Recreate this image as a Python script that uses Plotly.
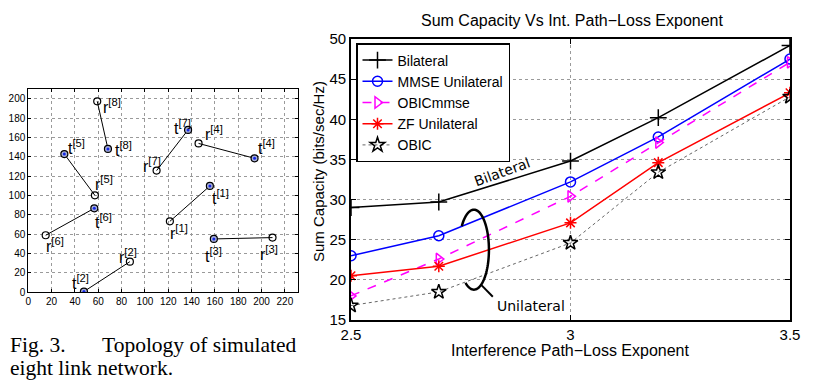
import numpy as np
import plotly.graph_objects as go

W, H = 817, 384

# ---------------- Data: left topology panel ----------------
link_ids = [1, 2, 3, 4, 5, 6, 7, 8]
tx_x = [155.7, 47.7, 159.1, 194.0, 30.9, 56.6, 137.0, 68.3]
tx_y = [110.0, 0.8, 55.2, 138.6, 143.0, 86.9, 168.0, 148.3]
rx_x = [121.4, 87.1, 209.4, 146.0, 57.1, 14.9, 110.0, 59.1]
rx_y = [73.4, 31.7, 56.6, 154.0, 100.3, 59.0, 125.9, 197.6]
# label anchor positions (data units)
tx_lab_x = [164.6, 44.6, 158.6, 204.6, 40.9, 64.3, 132.3, 81.7]
tx_lab_y = [98.3, 11.0, 38.6, 150.7, 150.7, 74.0, 171.4, 148.0]
rx_lab_x = [129.1, 85.1, 206.3, 158.9, 64.6, 22.9, 105.7, 71.7]
rx_lab_y = [62.8, 38.0, 40.3, 165.2, 112.8, 49.0, 131.7, 192.8]
topo_xticks = list(range(0, 221, 20))
topo_yticks = list(range(0, 201, 20))

# ---------------- Data: right capacity panel ----------------
exponent = [2.5, 2.7, 3.0, 3.2, 3.5]
bilateral = [29.0, 29.7, 34.8, 40.2, 49.2]
mmse_unilateral = [23.0, 25.5, 32.2, 37.8, 47.5]
obic_mmse = [18.0, 22.6, 30.4, 37.1, 47.1]
zf_unilateral = [20.5, 21.7, 27.1, 34.6, 43.3]
obic = [16.8, 18.5, 24.6, 33.4, 42.8]
cap_xticks = [2.5, 3.0, 3.5]
cap_xticklabels = ["2.5", "3", "3.5"]
cap_yticks = [15, 20, 25, 30, 35, 40, 45, 50]


def px_x(p):
    return p / W


def px_y(p):
    return 1 - p / H


fig = go.Figure()

# ---- left panel: links ----
lx, ly = [], []
for i in range(len(link_ids)):
    lx += [tx_x[i], rx_x[i], None]
    ly += [tx_y[i], rx_y[i], None]
fig.add_trace(go.Scatter(x=lx, y=ly, mode="lines", line=dict(color="black", width=1),
                         xaxis="x", yaxis="y", showlegend=False, hoverinfo="skip"))
fig.add_trace(go.Scatter(x=rx_x, y=rx_y, mode="markers",
                         marker=dict(symbol="circle-open", size=7, color="black", line=dict(width=1.2)),
                         xaxis="x", yaxis="y", showlegend=False))
fig.add_trace(go.Scatter(x=tx_x, y=tx_y, mode="markers",
                         marker=dict(symbol="circle", size=7, color="#a9b0d8", line=dict(width=1.2, color="black")),
                         xaxis="x", yaxis="y", showlegend=False))
fig.add_trace(go.Scatter(x=tx_x, y=tx_y, mode="markers",
                         marker=dict(symbol="circle", size=3, color="#1428e6"),
                         xaxis="x", yaxis="y", showlegend=False))

annotations = []
for i, k in enumerate(link_ids):
    annotations.append(dict(x=tx_lab_x[i], y=tx_lab_y[i], xref="x", yref="y",
                            text=f"t<sup>[{k}]</sup>", showarrow=False,
                            font=dict(family="Liberation Sans, Arial", size=16, color="black"),
                            xanchor="center", yanchor="middle"))
    annotations.append(dict(x=rx_lab_x[i], y=rx_lab_y[i], xref="x", yref="y",
                            text=f"r<sup>[{k}]</sup>", showarrow=False,
                            font=dict(family="Liberation Sans, Arial", size=16, color="black"),
                            xanchor="center", yanchor="middle"))

# ---- right panel: capacity curves ----
fig.add_trace(go.Scatter(x=exponent, y=bilateral, name="Bilateral", mode="lines+markers",
                         line=dict(color="black", width=1.5),
                         marker=dict(symbol="cross-thin-open", size=12, color="black", line=dict(width=1.5)),
                         xaxis="x2", yaxis="y2"))
fig.add_trace(go.Scatter(x=exponent, y=mmse_unilateral, name="MMSE Unilateral", mode="lines+markers",
                         line=dict(color="blue", width=1.5),
                         marker=dict(symbol="circle-open", size=10, color="blue", line=dict(width=1.5)),
                         xaxis="x2", yaxis="y2"))
fig.add_trace(go.Scatter(x=exponent, y=obic_mmse, name="OBICmmse", mode="lines+markers",
                         line=dict(color="magenta", width=1.5, dash="dash"),
                         marker=dict(symbol="triangle-right-open", size=10, color="magenta", line=dict(width=1.5)),
                         xaxis="x2", yaxis="y2"))
fig.add_trace(go.Scatter(x=exponent, y=zf_unilateral, name="ZF Unilateral", mode="lines+markers",
                         line=dict(color="red", width=1.5),
                         marker=dict(symbol="asterisk-open", size=10, color="red", line=dict(width=1.5)),
                         xaxis="x2", yaxis="y2"))
fig.add_trace(go.Scatter(x=exponent, y=obic, name="OBIC", mode="lines+markers",
                         line=dict(color="#666666", width=1, dash="dot"),
                         marker=dict(symbol="star-open", size=11, color="black", line=dict(width=1.5)),
                         xaxis="x2", yaxis="y2"))

# ellipse (open on the left) + leader line for "Unilateral"
cx, cy, ax_, by_ = 2.780, 23.76, 0.0342, 4.98
theta = np.deg2rad(np.linspace(144, -124, 80))
ex = cx + ax_ * np.cos(theta)
ey = cy + by_ * np.sin(theta)
path = "M " + " L ".join(f"{a:.5f},{b:.4f}" for a, b in zip(ex, ey))
shapes = [
    dict(type="path", path=path, xref="x2", yref="y2", line=dict(color="black", width=2.5)),
    dict(type="line", x0=2.796, y0=19.4, x1=2.823, y1=17.9, xref="x2", yref="y2",
         line=dict(color="black", width=2)),
]

annotations += [
    dict(x=2.844, y=33.44, xref="x2", yref="y2", text="Bilateral", showarrow=False, textangle=-20,
         font=dict(family="DejaVu Sans", size=14, color="black"), xanchor="center", yanchor="middle"),
    dict(x=2.91, y=16.75, xref="x2", yref="y2", text="Unilateral", showarrow=False,
         font=dict(family="DejaVu Sans", size=14, color="black"), xanchor="center", yanchor="middle"),
    dict(x=px_x(572), y=px_y(20), xref="paper", yref="paper", text="Sum Capacity Vs Int. Path−Loss Exponent",
         showarrow=False, font=dict(family="Liberation Sans, Arial", size=16, color="black"),
         xanchor="center", yanchor="middle"),
    dict(x=px_x(570), y=px_y(350), xref="paper", yref="paper", text="Interference Path−Loss Exponent",
         showarrow=False, font=dict(family="Liberation Sans, Arial", size=16, color="black"),
         xanchor="center", yanchor="middle"),
    dict(x=px_x(318), y=px_y(172), xref="paper", yref="paper", text="Sum Capacity (bits/sec/Hz)",
         showarrow=False, textangle=-90, font=dict(family="Liberation Sans, Arial", size=15, color="black"),
         xanchor="center", yanchor="middle"),
    # caption
    dict(x=px_x(8), y=px_y(345), xref="paper", yref="paper", text="Fig. 3.", showarrow=False,
         font=dict(family="Liberation Serif, Times New Roman", size=21.5, color="black"),
         xanchor="left", yanchor="middle"),
    dict(x=px_x(299), y=px_y(345), xref="paper", yref="paper", text="Topology of simulated", showarrow=False,
         font=dict(family="Liberation Serif, Times New Roman", size=21.5, color="black"),
         xanchor="right", yanchor="middle"),
    dict(x=px_x(8), y=px_y(368), xref="paper", yref="paper", text="eight link network.", showarrow=False,
         font=dict(family="Liberation Serif, Times New Roman", size=21.5, color="black"),
         xanchor="left", yanchor="middle"),
]

grid_common = dict(showgrid=True, gridcolor="#9a9a9a", griddash="dot", gridwidth=1,
                   zeroline=False, showline=True, linecolor="black", mirror="ticks",
                   ticks="inside", tickcolor="black", automargin=False)

fig.update_layout(
    width=W, height=H, margin=dict(l=0, r=0, t=0, b=0, autoexpand=False),
    paper_bgcolor="white", plot_bgcolor="white",
    font=dict(family="Liberation Sans, Arial", color="black"),
    xaxis=dict(domain=[px_x(28.3), px_x(297.7)], range=[0, 231], tickvals=topo_xticks,
               anchor="y", ticklen=3, linewidth=1, tickfont=dict(size=10), **grid_common),
    yaxis=dict(domain=[px_y(292.3), px_y(89)], range=[0, 210.3], tickvals=topo_yticks,
               anchor="x", ticklen=3, linewidth=1, tickfont=dict(size=10), **grid_common),
    xaxis2=dict(domain=[px_x(351), px_x(790)], range=[2.5, 3.5], tickvals=cap_xticks,
                ticktext=cap_xticklabels, anchor="y2", ticklen=5, linewidth=1.8,
                tickfont=dict(size=15), **grid_common),
    yaxis2=dict(domain=[px_y(320), px_y(39)], range=[15, 50], tickvals=cap_yticks,
                anchor="x2", ticklen=5, linewidth=1.8, tickfont=dict(size=15), **grid_common),
    legend=dict(x=px_x(356), y=px_y(43), xanchor="left", yanchor="top",
                bgcolor="white", bordercolor="black", borderwidth=1.5,
                font=dict(family="Liberation Sans, Arial", size=14, color="black"),
                tracegroupgap=0, itemwidth=30),
    shapes=shapes,
    annotations=annotations,
)

fig.write_html("out.html", config={"displayModeBar": False},
               post_script="document.body.style.margin='0';document.body.style.overflow='hidden';")
